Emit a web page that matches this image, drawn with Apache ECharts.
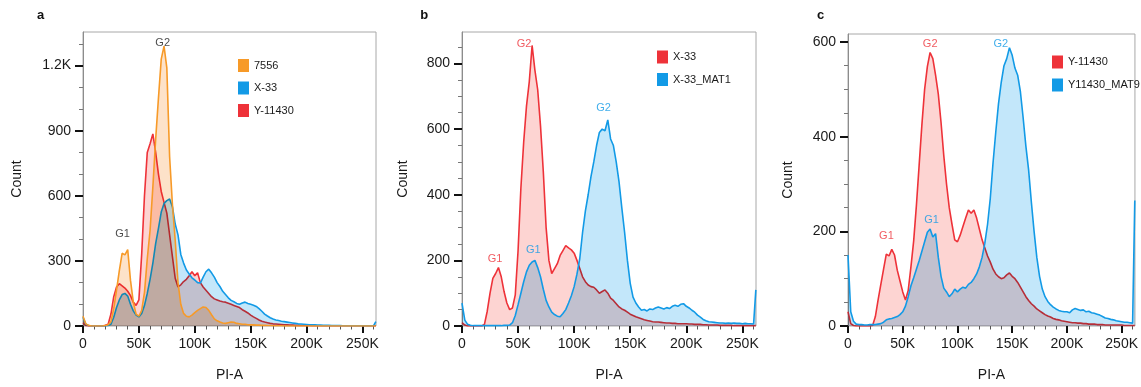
<!DOCTYPE html>
<html><head><meta charset="utf-8">
<script src="https://cdn.jsdelivr.net/npm/echarts@6/dist/echarts.min.js"></script>
<style>html,body{margin:0;padding:0;background:#fff}#c{width:1141px;height:387px}</style>
</head><body><div id="c"></div>
<script>
// PI-A bin positions (thousands)
const bins = [
0,2.5,5,7.5,10,12.5,15,17.5,20,22.5,
25,27.5,30,32.5,35,37.5,40,42.5,45,47.5,
50,52.5,55,57.5,60,62.5,65,67.5,70,72.5,
75,77.5,80,82.5,85,87.5,90,92.5,95,97.5,
100,102.5,105,107.5,110,112.5,115,117.5,120,122.5,
125,127.5,130,132.5,135,137.5,140,142.5,145,147.5,
150,152.5,155,157.5,160,162.5,165,167.5,170,172.5,
175,177.5,180,182.5,185,187.5,190,192.5,195,197.5,
200,202.5,205,207.5,210,212.5,215,217.5,220,222.5,
225,227.5,230,232.5,235,237.5,240,242.5,245,247.5,
250,252.5,255,257.5,260,262];

// Panel a
const a_7556 = [
45,10,3,0,0,0,0,0,2,6,
20,80,165,255,335,328,352,210,110,55,
45,72,155,310,440,640,860,1050,1230,1290,
1190,780,560,395,200,100,58,45,42,50,
62,72,80,88,85,72,52,33,24,18,
14,12,15,18,17,12,10,8,8,6,
5,5,4,4,3,3,2,2,1,1,
1,1,0,0,0,0,0,0,0,0,
0,0,0,0,0,0,0,0,0,0,
0,0,0,0,0,0,0,0,0,0,
0,0,0,0,0,0];
const a_X33 = [
40,8,2,0,0,0,0,0,0,2,
8,40,85,120,145,150,138,100,70,50,
42,58,95,150,215,290,380,450,525,565,
578,585,550,470,420,330,290,258,240,222,
212,200,198,225,250,262,245,225,200,182,
160,145,130,118,112,104,100,106,110,104,
100,96,90,80,68,55,46,38,32,28,
25,22,20,18,16,14,12,10,9,8,
7,6,5,5,4,4,3,3,3,2,
2,2,2,1,1,1,1,1,1,1,
1,1,1,1,2,20];
const a_Y11430 = [
15,3,0,0,0,0,0,0,3,8,
55,135,180,195,185,175,160,140,110,95,
120,330,600,800,840,885,800,700,620,570,
520,420,320,220,180,190,205,215,232,250,
232,245,200,180,165,150,135,125,120,115,
112,110,105,100,95,90,85,75,68,60,
50,42,35,28,22,18,15,12,10,9,
8,7,6,5,4,4,3,3,2,2,
2,2,1,1,1,1,1,1,1,1,
1,1,1,1,1,1,1,1,1,1,
1,1,1,1,1,1];

// Panel b
const b_X33 = [
10,3,0,0,0,0,0,0,5,45,
100,145,160,178,150,105,70,50,55,95,
230,420,560,670,745,855,780,720,610,470,
300,200,160,175,190,215,230,245,238,232,
222,200,175,150,135,125,120,118,110,100,
105,110,100,85,78,68,58,52,48,42,
36,32,28,25,22,19,17,15,13,12,
12,11,10,9,9,8,8,7,7,7,
7,6,6,5,5,5,4,4,3,3,
3,3,2,2,2,2,2,1,1,1,
1,1,1,1,1,1];
const b_X33_MAT1 = [
70,18,5,2,1,1,1,1,1,1,
1,1,1,1,1,2,2,3,10,32,
65,100,135,165,185,195,200,178,150,112,
78,58,42,35,30,28,38,50,70,92,
120,158,205,285,350,400,455,500,550,590,
600,595,628,570,550,500,440,360,285,200,
130,88,70,58,48,50,46,52,50,55,
58,55,52,56,53,60,63,60,66,68,
60,55,48,42,33,27,20,16,13,12,
11,10,9,9,8,9,8,9,8,8,
7,8,7,7,6,110];

// Panel c
const c_Y11430 = [
30,5,1,0,0,0,0,0,0,1,
20,55,88,120,152,148,162,150,118,95,
72,55,75,125,180,255,340,425,500,548,
578,565,530,490,430,360,300,250,215,182,
178,192,210,228,245,238,245,228,205,182,
165,148,135,120,110,104,100,102,108,112,
105,100,92,82,72,62,54,47,42,36,
32,28,24,21,19,16,14,13,11,10,
9,8,7,7,6,6,5,5,4,4,
4,3,3,3,2,2,2,2,2,2,
2,1,1,1,1,1];
const c_Y11430_MAT9 = [
150,30,10,4,3,3,2,2,3,3,
3,4,5,8,13,15,16,18,20,24,
30,42,62,85,102,120,138,158,178,198,
205,188,195,145,105,80,72,62,68,78,
72,78,82,80,88,92,100,110,125,145,
175,215,270,345,410,470,515,550,565,588,
572,545,530,495,440,380,330,262,200,145,
105,78,62,52,45,40,36,33,31,30,
30,28,34,37,35,33,34,30,31,28,
27,25,23,20,17,16,14,13,11,10,
9,8,8,7,6,265];

// Tick values
const xMajor = [0,50,100,150,200,250];
const xMinor = [10,20,30,40,60,70,80,90,110,120,130,140,160,170,180,190,210,220,230,240,260];
const yMajorA = [0,300,600,900,1200];
const yMinorA = [100,200,400,500,700,800,1000,1100,1300];
const yMajorB = [0,200,400,600,800];
const yMinorB = [50,100,150,250,300,350,450,500,550,650,700,750,850];
const yMajorC = [0,200,400,600];
const yMinorC = [50,100,150,250,300,350,450,500,550];

// Peak annotations (text, PI-A K, count, colour key)
const annA = [['G1',35.4,422,'black'],['G2',71.3,1306,'black']];
const annB = [['G1',29.4,203,'red'],['G2',55.4,860,'red'],['G1',63.5,233,'blue'],['G2',126.3,664,'blue']];
const annC = [['G1',35.1,190,'red'],['G2',75.1,596,'red'],['G1',76.3,224,'blue'],['G2',139.6,596,'blue']];

const COL = {red:'#EE3239', blue:'#129AE6', orange:'#F79A28', black:'#1a1a1a'};
const TINT = {red:'#FDD4D2', blue:'#C3E7FA', orange:'#FDE2C9'};
const FONT = 'Liberation Sans, Arial, Helvetica, sans-serif';

const panels = [
  {grid:{left:83,top:32,width:293,height:294}, yMax:1355, yMajor:yMajorA, yMinor:yMinorA, yGap:59,
   series:[['Y-11430',a_Y11430,'red'],['X-33',a_X33,'blue'],['7556',a_7556,'orange']],
   legend:{left:238,top:59,gap:9.5,items:[['7556','orange'],['X-33','blue'],['Y-11430','red']]}, ann:annA},
  {grid:{left:462,top:32,width:294,height:294}, yMax:896, yMajor:yMajorB, yMinor:yMinorB, yGap:52,
   series:[['X-33',b_X33,'red'],['X-33_MAT1',b_X33_MAT1,'blue']],
   legend:{left:657,top:50.5,gap:9.5,items:[['X-33','red'],['X-33_MAT1','blue']]}, ann:annB},
  {grid:{left:848,top:34,width:293,height:294}, yMax:617, yMajor:yMajorC, yMinor:yMinorC, yGap:53,
   series:[['Y-11430',c_Y11430,'red'],['Y11430_MAT9',c_Y11430_MAT9,'blue']],
   legend:{left:1052,top:55.5,gap:10,items:[['Y-11430','red'],['Y11430_MAT9','blue']]}, ann:annC}
];

const grids=[], xAxes=[], yAxes=[], series=[], legends=[];
const txt = {color:'#1a1a1a', fontFamily:FONT};
panels.forEach((p, i) => {
  grids.push(Object.assign({show:true, borderColor:'#a8a8a8', borderWidth:1, backgroundColor:'transparent'}, p.grid));
  const xi = xAxes.length, yi = yAxes.length;
  xAxes.push({type:'value', gridIndex:i, min:0, max:262.144, position:'bottom', offset:2,
    axisLine:{show:false}, splitLine:{show:false},
    axisTick:{show:true, customValues:xMajor, length:7, lineStyle:{color:'#111', width:2}},
    axisLabel:{customValues:xMajor, formatter:v => v === 0 ? '0' : v + 'K', fontSize:14, margin:9, ...txt},
    name:'PI-A', nameLocation:'middle', nameGap:40, nameTextStyle:{fontSize:14, ...txt}});
  xAxes.push({type:'value', gridIndex:i, min:0, max:262.144, position:'bottom', offset:2,
    axisLine:{show:false}, splitLine:{show:false},
    axisTick:{show:true, customValues:xMinor, length:3.5, lineStyle:{color:'#555', width:1}},
    axisLabel:{show:false}});
  yAxes.push({type:'value', gridIndex:i, min:0, max:p.yMax, position:'left',
    axisLine:{show:true, lineStyle:{color:'#8c8c8c', width:1}}, splitLine:{show:false},
    axisTick:{show:true, customValues:p.yMajor, length:8, lineStyle:{color:'#111', width:2}},
    axisLabel:{customValues:p.yMajor, formatter:v => v >= 1000 ? (v/1000) + 'K' : String(v), fontSize:14, margin:12, ...txt},
    name:'Count', nameLocation:'middle', nameGap:p.yGap, nameTextStyle:{fontSize:14, ...txt}});
  yAxes.push({type:'value', gridIndex:i, min:0, max:p.yMax, position:'left',
    axisLine:{show:false}, splitLine:{show:false},
    axisTick:{show:true, customValues:p.yMinor, length:4, lineStyle:{color:'#777', width:1}},
    axisLabel:{show:false}});
  const last = p.series.length - 1;
  p.series.forEach(([name, vals, ck], k) => {
    const data = bins.map((b, j) => [b, vals[j]]);
    // tinted fill, multiplied so overlaps darken like the overlay histogram
    series.push({type:'line', name: name + ' fill', xAxisIndex:xi, yAxisIndex:yi, data,
      z: 2 + 2*k, symbol:'none', showSymbol:false, silent:true, emphasis:{disabled:true},
      lineStyle:{width:0, opacity:0}, itemStyle:{color:TINT[ck]},
      areaStyle:{color:TINT[ck], opacity:1}, blendMode:'multiply'});
    // outline: earlier ones sit under later fills, the top one on its own layer
    series.push({type:'line', name, xAxisIndex:xi, yAxisIndex:yi, data,
      zlevel: k === last ? 1 : 0,
      z: 3 + 2*k, symbol:'none', showSymbol:false, silent:true, emphasis:{disabled:true},
      lineStyle:{color:COL[ck], width:1.6}, itemStyle:{color:COL[ck]}, blendMode:'source-over'});
  });
  series.push({type:'scatter', xAxisIndex:xi, yAxisIndex:yi, silent:true, zlevel:1, z:20, blendMode:'source-over',
    symbolSize:1, itemStyle:{color:'rgba(0,0,0,0)'}, emphasis:{disabled:true},
    label:{show:true, position:'inside', formatter:'{b}', fontSize:11, fontFamily:FONT},
    data: p.ann.map(([t, x, y, ck]) => ({name:t, value:[x, y], label:{color:COL[ck]}}))});
  legends.push({orient:'vertical', left:p.legend.left, top:p.legend.top, padding:0, zlevel:1, z:20,
    itemWidth:11, itemHeight:13, itemGap:p.legend.gap, icon:'rect', selectedMode:false,
    textStyle:{fontSize:11, ...txt},
    data: p.legend.items.map(([n, ck]) => ({name:n, icon:'rect', itemStyle:{color:COL[ck]}}))});
});

const chart = echarts.init(document.getElementById('c'), null, {renderer:'canvas'});
chart.setOption({
  backgroundColor:'#ffffff', animation:false,
  grid:grids, xAxis:xAxes, yAxis:yAxes, series, legend:legends,
  graphic:[['a',40.7],['b',424.3],['c',820.7]].map(([t, x]) => ({type:'text', x, y:15.7, zlevel:1,
    style:{text:t, font:'bold 13px ' + FONT, fill:'#111', align:'center', verticalAlign:'middle', textAlign:'center', textVerticalAlign:'middle'}}))
});
</script></body></html>
